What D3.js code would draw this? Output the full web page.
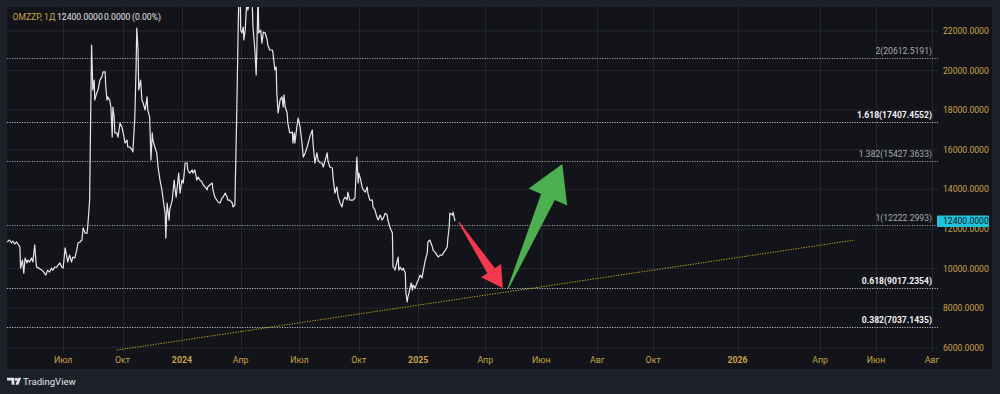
<!DOCTYPE html>
<html><head><meta charset="utf-8">
<script src="https://cdn.jsdelivr.net/npm/d3@7"></script>
<style>
html,body{margin:0;padding:0;background:#1e212a;}
svg{display:block;}
text{font-family:Roboto,"Noto Sans","DejaVu Sans",sans-serif;}
</style></head><body>
<svg id="chart" width="1000" height="394"></svg>
<script>
// ---------- DATA ----------
const symbolTitle = "OMZZP, 1Д";
const headerValues = ["12400.0000", "0.0000", "(0.00%)"];
const lastPrice = 12400;

const priceSeries = [
["2023-04-05",11340],["2023-04-09",11440],["2023-04-12",11290],["2023-04-14",11390],["2023-04-17",11240],["2023-04-20",11340],["2023-04-22",11240],["2023-04-25",11090],["2023-04-26",10020],["2023-04-29",10430],
["2023-05-01",9770],["2023-05-03",10530],["2023-05-06",10280],["2023-05-07",10430],["2023-05-10",10330],["2023-05-13",10530],["2023-05-15",10330],["2023-05-18",11190],["2023-05-20",10280],["2023-05-21",10070],["2023-05-24",10020],["2023-05-29",9920],
["2023-06-01",9820],["2023-06-04",9670],["2023-06-07",9920],["2023-06-10",9820],["2023-06-13",10020],["2023-06-15",9920],["2023-06-18",10070],["2023-06-21",10070],["2023-06-23",10180],["2023-06-26",10280],["2023-06-29",10070],
["2023-07-01",10020],["2023-07-04",11040],["2023-07-07",10530],["2023-07-08",10330],["2023-07-11",10680],["2023-07-14",10330],["2023-07-16",10580],["2023-07-19",10530],["2023-07-22",10930],["2023-07-24",11290],["2023-07-27",11340],["2023-07-30",11440],
["2023-08-01",12050],["2023-08-04",11790],["2023-08-07",11790],["2023-08-08",12100],["2023-08-10",12960],["2023-08-11",13460],["2023-08-14",21290],["2023-08-16",19020],["2023-08-18",19520],["2023-08-19",18510],["2023-08-22",18870],["2023-08-24",19020],["2023-08-27",19520],["2023-08-30",19680],
["2023-09-01",19930],["2023-09-04",19930],["2023-09-05",19170],["2023-09-07",18510],["2023-09-08",18670],["2023-09-11",18510],["2023-09-13",18160],["2023-09-15",16640],["2023-09-16",18160],["2023-09-18",17650],["2023-09-19",16850],["2023-09-22",16850],["2023-09-24",16640],["2023-09-27",17350],["2023-09-30",17150],
["2023-10-02",16850],["2023-10-05",16340],["2023-10-08",16490],["2023-10-09",16140],["2023-10-12",16140],["2023-10-16",15990],["2023-10-17",15890],["2023-10-20",17650],["2023-10-22",20180],["2023-10-23",22150],["2023-10-25",21040],["2023-10-26",19020],["2023-10-29",19520],["2023-10-31",18510],
["2023-11-02",18360],["2023-11-05",18010],["2023-11-08",18670],["2023-11-09",18010],["2023-11-12",17650],["2023-11-14",15480],["2023-11-16",16850],["2023-11-17",16490],["2023-11-20",16140],["2023-11-23",15840],["2023-11-25",15130],["2023-11-28",14470],
["2023-12-01",13970],["2023-12-03",13460],["2023-12-06",12800],["2023-12-07",11540],["2023-12-09",13310],["2023-12-12",12450],["2023-12-13",12960],["2023-12-17",13460],["2023-12-20",14470],["2023-12-21",14120],["2023-12-23",13610],["2023-12-27",14820],["2023-12-29",13810],
["2024-01-01",14470],["2024-01-03",14320],["2024-01-06",15330],["2024-01-09",15330],["2024-01-10",14980],["2024-01-13",14820],["2024-01-17",14980],["2024-01-18",14820],["2024-01-21",14980],["2024-01-24",14470],["2024-01-26",14620],["2024-01-29",14470],
["2024-02-01",14370],["2024-02-03",14220],["2024-02-06",14120],["2024-02-09",13970],["2024-02-10",14120],["2024-02-13",14220],["2024-02-17",14320],["2024-02-18",13970],["2024-02-21",13610],["2024-02-24",13460],["2024-02-26",13360],["2024-02-29",13310],
["2024-03-03",13560],["2024-03-05",13610],["2024-03-08",13810],["2024-03-11",13610],["2024-03-12",13460],["2024-03-15",13460],["2024-03-19",13310],["2024-03-20",13110],["2024-03-23",13210],["2024-03-26",18010],["2024-03-28",21900],["2024-03-29",23600],["2024-03-31",24200],
["2024-04-01",22050],["2024-04-03",21900],["2024-04-05",22200],["2024-04-06",21550],["2024-04-08",22050],["2024-04-11",23800],["2024-04-12",23060],["2024-04-15",23400],["2024-04-19",23300],["2024-04-20",22200],["2024-04-23",21040],["2024-04-25",19780],["2024-04-26",21040],["2024-04-28",23900],["2024-04-29",21900],
["2024-05-02",22050],["2024-05-04",21390],["2024-05-06",21950],["2024-05-09",21900],["2024-05-12",21550],["2024-05-13",21290],["2024-05-16",21040],["2024-05-20",21040],["2024-05-21",20890],["2024-05-24",20030],["2024-05-26",20180],["2024-05-27",18870],["2024-05-29",17860],
["2024-06-01",18510],["2024-06-04",18670],["2024-06-06",18160],["2024-06-07",18770],["2024-06-09",18160],["2024-06-12",17860],["2024-06-13",17350],["2024-06-16",16850],["2024-06-20",16900],["2024-06-21",16340],["2024-06-23",16850],["2024-06-24",16340],["2024-06-27",17150],["2024-06-29",17600],
["2024-07-02",17150],["2024-07-05",16340],["2024-07-07",15630],["2024-07-10",15840],["2024-07-13",16140],["2024-07-17",16640],["2024-07-21",17000],["2024-07-22",16340],["2024-07-25",15330],["2024-07-28",15840],["2024-07-30",15480],
["2024-08-02",15330],["2024-08-05",15330],["2024-08-07",15130],["2024-08-10",15480],["2024-08-13",15840],["2024-08-14",15480],["2024-08-17",15130],["2024-08-21",15080],["2024-08-22",14620],["2024-08-25",13810],["2024-08-28",14120],["2024-08-30",13610],
["2024-09-02",13310],["2024-09-05",13110],["2024-09-07",13460],["2024-09-10",13610],["2024-09-13",13460],["2024-09-14",13860],["2024-09-17",13460],["2024-09-21",13460],["2024-09-22",13460],["2024-09-25",13560],["2024-09-28",15630],["2024-09-30",14320],
["2024-10-01",14820],["2024-10-04",14470],["2024-10-06",14120],["2024-10-08",13970],["2024-10-11",13860],["2024-10-14",14120],["2024-10-15",13810],["2024-10-18",13460],["2024-10-22",13460],["2024-10-23",13110],["2024-10-26",12960],["2024-10-29",12600],["2024-10-31",12450],
["2024-11-03",12700],["2024-11-06",12450],["2024-11-08",12550],["2024-11-11",12800],["2024-11-14",12700],["2024-11-15",12450],["2024-11-18",12100],["2024-11-22",11790],["2024-11-23",10070],["2024-11-25",10020],["2024-11-26",9920],["2024-11-29",10330],
["2024-12-01",10580],["2024-12-02",9920],["2024-12-04",10070],["2024-12-07",9920],["2024-12-09",10020],["2024-12-12",9770],["2024-12-13",8760],["2024-12-15",8310],["2024-12-16",8560],["2024-12-18",8810],["2024-12-21",9270],["2024-12-23",8910],["2024-12-24",9170],["2024-12-27",9010],["2024-12-30",9270],
["2025-01-01",9420],["2025-01-04",9670],["2025-01-07",9520],["2025-01-09",9920],["2025-01-12",10430],["2025-01-15",10780],["2025-01-16",11340],["2025-01-19",11440],["2025-01-23",11090],["2025-01-24",10930],["2025-01-27",10830],["2025-01-30",10680],
["2025-02-01",10580],["2025-02-04",10680],["2025-02-07",10680],["2025-02-09",10780],["2025-02-12",10930],["2025-02-15",11090],["2025-02-16",11540],["2025-02-18",12100],["2025-02-19",12800],["2025-02-23",12700],["2025-02-24",12850],["2025-02-26",12550],["2025-02-27",12400]
];

const priceTicks = [6000, 8000, 10000, 12000, 14000, 16000, 18000, 20000, 22000];

const timeTickDates  = ["2023-07-01","2023-10-01","2024-01-01","2024-04-01","2024-07-01","2024-10-01","2025-01-01","2025-04-01","2025-06-01","2025-08-01","2025-10-01","2026-01-01","2026-04-01","2026-06-01","2026-08-01"];
const timeTickLabels = ["Июл","Окт","2024","Апр","Июл","Окт","2025","Апр","Июн","Авг","Окт","2026","Апр","Июн","Авг"];

const fibRatios = ["2", "1.618", "1.382", "1", "0.618", "0.382"];
const fibValues = [20612.5191, 17407.4552, 15427.3633, 12222.2993, 9017.2354, 7037.1435];
const fibBright = [false, true, false, false, true, true];

const trendStart = ["2023-09-22", 5880];
const trendEnd   = ["2026-05-09", 11440];

const redArrow   = [["2025-03-03", 12350], ["2025-04-20", 9010]];
const greenArrow = [["2025-04-26", 9010], ["2025-06-24", 15280]];

// ---------- LAYOUT ----------
const parse = d3.timeParse("%Y-%m-%d");
const svg = d3.select("#chart");
const W = 1000, H = 394;
const panel = {x: 7, y: 7, w: 985, h: 362};
const plot = {left: 7, right: 938, top: 7, bottom: 352};
const GOLD = "#c9a347";
const FS = 8.6;

const x = d3.scaleTime()
  .domain([parse("2023-04-05"), parse("2025-02-27"), parse("2026-08-07")])
  .range([7, 455, 937.5]);
const y = d3.scaleLinear().domain([6000, 22000]).range([347.7, 31]);

svg.append("rect").attr("width", W).attr("height", H).attr("fill", "#1e212a");
svg.append("rect").attr("x", panel.x).attr("y", panel.y).attr("width", panel.w).attr("height", panel.h)
  .attr("rx", 2).attr("fill", "#131419");

svg.append("defs").append("clipPath").attr("id", "plotclip")
  .append("rect").attr("x", plot.left).attr("y", plot.top)
  .attr("width", plot.right - plot.left).attr("height", plot.bottom - plot.top);

// grid
const grid = svg.append("g").attr("clip-path", "url(#plotclip)");
grid.selectAll("line.h").data(priceTicks).join("line")
  .attr("x1", plot.left).attr("x2", plot.right)
  .attr("y1", d => y(d)).attr("y2", d => y(d))
  .attr("stroke", "#23262e").attr("stroke-width", 1);
grid.selectAll("line.v").data(timeTickDates).join("line")
  .attr("x1", d => Math.round(x(parse(d))) + 0.5).attr("x2", d => Math.round(x(parse(d))) + 0.5)
  .attr("y1", plot.top).attr("y2", plot.bottom)
  .attr("stroke", "#23262e").attr("stroke-width", 1);

// fib lines
const fib = svg.append("g");
fibValues.forEach((v, i) => {
  fib.append("line")
    .attr("x1", plot.left).attr("x2", plot.right)
    .attr("y1", Math.round(y(v)) + 0.5).attr("y2", Math.round(y(v)) + 0.5)
    .attr("stroke", fibBright[i] ? "#b8bbc3" : "#9a9da5")
    .attr("stroke-width", 1).attr("stroke-dasharray", "1.2,1.3");
  fib.append("text")
    .attr("x", 932).attr("y", y(v) - 4)
    .attr("text-anchor", "end")
    .attr("font-size", FS)
    .attr("font-weight", fibBright[i] ? "bold" : "normal")
    .attr("fill", fibBright[i] ? "#f0f1f3" : "#a6a9b1")
    .text(`${fibRatios[i]}(${fibValues[i].toFixed(4)})`);
});

// trend line
svg.append("line").attr("clip-path", "url(#plotclip)")
  .attr("x1", x(parse(trendStart[0]))).attr("y1", y(trendStart[1]))
  .attr("x2", x(parse(trendEnd[0]))).attr("y2", y(trendEnd[1]))
  .attr("stroke", "#b9a521").attr("stroke-width", 1).attr("stroke-dasharray", "1.3,1.3");

// price line
const line = d3.line().x(d => x(parse(d[0]))).y(d => y(d[1]));
svg.append("path").attr("clip-path", "url(#plotclip)")
  .datum(priceSeries).attr("d", line)
  .attr("fill", "none").attr("stroke", "#e6e7ea").attr("stroke-width", 1.2)
  .attr("stroke-linejoin", "round");

// arrows
function arrowPath(a, shaft, headLen, headW) {
  const sx = x(parse(a[0][0])), sy = y(a[0][1]);
  const ex = x(parse(a[1][0])), ey = y(a[1][1]);
  const L = Math.hypot(ex - sx, ey - sy);
  const ux = (ex - sx) / L, uy = (ey - sy) / L;
  const px = -uy, py = ux;
  const pt = (u, v) => [sx + ux * u + px * v, sy + uy * u + py * v];
  const pts = [pt(0, 0.6), pt(L - headLen, shaft / 2), pt(L - headLen, headW / 2), pt(L, 0),
               pt(L - headLen, -headW / 2), pt(L - headLen, -shaft / 2), pt(0, -0.6)];
  return "M" + pts.map(p => p.join(",")).join("L") + "Z";
}
svg.append("path").attr("d", arrowPath(redArrow, 9, 21, 24)).attr("fill", "#f4384d");
svg.append("path").attr("d", arrowPath(greenArrow, 15, 36, 42)).attr("fill", "#4caf50");

// price axis labels (12000 sits partly under the last-price badge, as in the reference)
svg.append("g").selectAll("text").data(priceTicks).join("text")
  .attr("x", 943).attr("y", d => y(d)).attr("dy", "0.35em")
  .attr("font-size", FS).attr("fill", GOLD)
  .text(d => d3.format(".4f")(d));

// current price label
svg.append("rect").attr("x", 937).attr("y", y(lastPrice) - 5.5).attr("width", 52).attr("height", 11.5)
  .attr("rx", 1).attr("fill", "#1fc4dc");
svg.append("text").attr("x", 943).attr("y", y(lastPrice)).attr("dy", "0.35em")
  .attr("font-size", FS).attr("fill", "#10131a").text(d3.format(".4f")(lastPrice));

// time axis labels
svg.append("g").selectAll("text").data(timeTickDates).join("text")
  .attr("x", d => x(parse(d))).attr("y", 360).attr("dy", "0.35em")
  .attr("text-anchor", "middle").attr("font-size", 8.8)
  .attr("font-weight", (d, i) => /^\d+$/.test(timeTickLabels[i]) ? "bold" : "normal")
  .attr("fill", GOLD)
  .text((d, i) => timeTickLabels[i]);

// header
const hdrY = 19.5;
svg.append("text").attr("x", 12.5).attr("y", hdrY).attr("font-size", FS).attr("fill", GOLD).text(symbolTitle);
const hdrX = [57, 104, 132];
headerValues.forEach((t, i) => {
  svg.append("text").attr("x", hdrX[i]).attr("y", hdrY).attr("font-size", FS)
    .attr("fill", "#e3e4e8").text(t);
});

// TradingView logo
const logo = svg.append("g").attr("fill", "#e3e4e8");
logo.append("path").attr("d", "M7,377.8H14.3V384.8H11.6V380.4H7Z");
logo.append("circle").attr("cx", 16.2).attr("cy", 379.3).attr("r", 1.5);
logo.append("path").attr("d", "M18.2,377.8H21.2L18.4,384.8H15.4Z");
svg.append("text").attr("x", 23).attr("y", 384.6).attr("font-size", 9.6)
  .attr("fill", "#e3e4e8").text("TradingView");
</script>
</body></html>
